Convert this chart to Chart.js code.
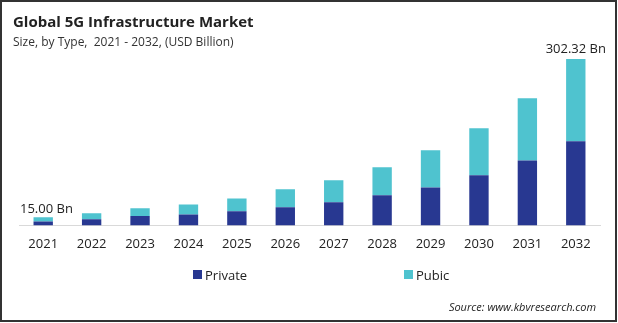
<!DOCTYPE html>
<html>
<head>
<meta charset="utf-8">
<script src="https://cdn.jsdelivr.net/npm/chart.js@4.4.0/dist/chart.umd.min.js"></script>
<style>
  html, body { margin: 0; padding: 0; background: #fff; }
  #wrap { width: 618px; height: 323px; position: relative; }
</style>
</head>
<body>
<div id="wrap"><canvas id="myChart" width="618" height="323"></canvas></div>
<script>
// Dados do gráfico
var years = ['2021', '2022', '2023', '2024', '2025', '2026', '2027', '2028', '2029', '2030', '2031', '2032'];
var privateValues = [7.3, 11, 17, 20, 25.5, 33, 42, 54.6, 69, 91, 118, 153];
var publicValues = [7.7, 10.9, 14, 18, 23.5, 32.6, 40, 51, 67.6, 85.7, 113, 149.32];
var firstLabel = '15.00 Bn';
var lastLabel = '302.32 Bn';

var FONT = "'Open Sans', sans-serif";

// Textos extras: título, legenda, fonte, rótulos de valor e moldura
var extras = {
    id: 'extras',
    afterDraw: function(chart) {
        var c = chart.ctx;
        var x = chart.scales.x;
        var y = chart.scales.y;
        c.save();
        c.textBaseline = 'alphabetic';
        c.fillStyle = '#222';
        c.font = 'bold 15px ' + FONT;
        c.fillText('Global 5G Infrastructure Market', 13, 27);
        c.fillStyle = '#333';
        c.font = '12px ' + FONT;
        c.fillText('Size, by Type,  2021 - 2032, (USD Billion)', 13, 46);

        // rótulos do primeiro e último total
        c.fillStyle = '#222';
        c.font = '13px ' + FONT;
        var t0 = privateValues[0] + publicValues[0];
        c.textAlign = 'left';
        c.fillText(firstLabel, 20, y.getPixelForValue(t0) - 4);
        var n = years.length - 1;
        var tN = privateValues[n] + publicValues[n];
        c.textAlign = 'center';
        c.fillText(lastLabel, x.getPixelForValue(n), y.getPixelForValue(tN) - 6);

        // legenda
        c.textAlign = 'left';
        c.font = '13px ' + FONT;
        c.fillStyle = '#283891';
        c.fillRect(193, 270, 9, 9);
        c.fillStyle = '#222';
        c.fillText('Private', 205, 280);
        c.fillStyle = '#4fc3cf';
        c.fillRect(404, 270, 9, 9);
        c.fillStyle = '#222';
        c.fillText('Pubic', 416, 280);

        // fonte
        c.font = 'italic 11px ' + FONT;
        c.textAlign = 'right';
        c.fillStyle = '#222';
        c.fillText('Source: www.kbvresearch.com', 596, 311);

        // moldura
        c.strokeStyle = '#333';
        c.lineWidth = 2;
        c.strokeRect(1, 1, 615, 320);
        c.restore();
    }
};

var ctx = document.getElementById('myChart').getContext('2d');
var myChart = new Chart(ctx, {
    type: 'bar',
    data: {
        labels: years,
        datasets: [
            {
                label: 'Private',
                data: privateValues,
                backgroundColor: '#283891',
                categoryPercentage: 1,
                barPercentage: 0.4
            },
            {
                label: 'Pubic',
                data: publicValues,
                backgroundColor: '#4fc3cf',
                categoryPercentage: 1,
                barPercentage: 0.4
            }
        ]
    },
    options: {
        responsive: false,
        animation: false,
        layout: { padding: { top: 40, left: 19, right: 18, bottom: 60 } },
        plugins: {
            legend: { display: false },
            title: { display: false },
            tooltip: { enabled: false }
        },
        scales: {
            x: {
                stacked: true,
                grid: { display: false, drawTicks: false },
                border: { display: true, color: '#d9d9d9', width: 1 },
                ticks: {
                    color: '#222',
                    padding: 11,
                    font: { family: FONT, size: 13 }
                }
            },
            y: {
                stacked: true,
                display: false,
                min: 0,
                max: 337
            }
        }
    },
    plugins: [extras]
});
</script>
</body>
</html>
